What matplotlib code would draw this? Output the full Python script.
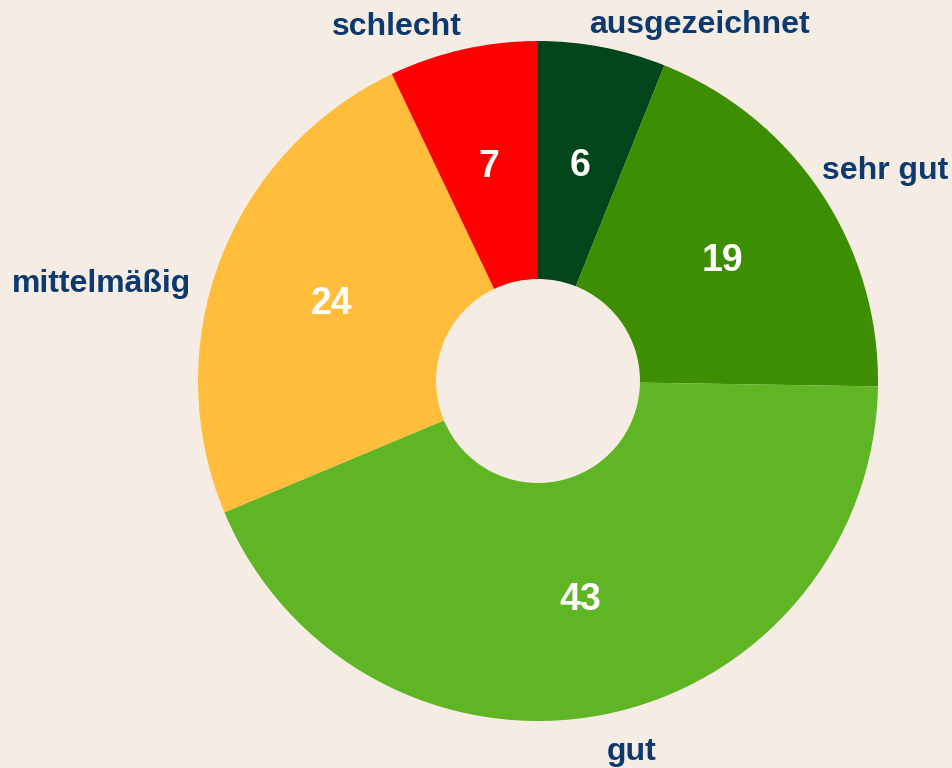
import numpy as np
import matplotlib.pyplot as plt

labels = ['ausgezeichnet', 'sehr gut', 'gut', 'mittelmäßig', 'schlecht']
values = [6, 19, 43, 24, 7]
colors = ['#00461a', '#3e8e04', '#5fb523', '#ffbd3b', '#ff0000']

# label placement: radius and angle nudge (degrees, clockwise) per slice
label_r = [1.058, 1.04, 1.11, 1.06, 1.065]
label_nudge = [-2.7, -2.8, 0.4, -5.3, 0.6]

bg = '#f5ede3'
plt.rcParams['font.family'] = ['Liberation Sans', 'DejaVu Sans']

fig = plt.figure(figsize=(9.53, 7.68), dpi=100, facecolor=bg)
ax = fig.add_axes([0, 0, 1, 1])
ax.set_facecolor(bg)

wedges, _ = ax.pie(values, colors=colors, startangle=90, counterclock=False,
                   radius=1, wedgeprops=dict(width=0.7, linewidth=0))

for lab, v, w, lr, dn in zip(labels, values, wedges, label_r, label_nudge):
    mid = (w.theta1 + w.theta2) / 2
    # value in the middle of the ring
    m = np.deg2rad(mid)
    ax.text(0.65 * np.cos(m), 0.65 * np.sin(m) - 0.006, str(v), ha='center', va='center',
            color='white', fontsize=27, fontweight='bold')
    a = np.deg2rad(mid - dn)
    x, y = lr * np.cos(a), lr * np.sin(a)
    ax.text(x, y, lab, ha='left' if x > 0 else 'right', va='center',
            color='#0d3a6e', fontsize=23, fontweight='bold')

ax.set_aspect('auto')
ax.set_xlim(-538 / 340, (953 - 538) / 340)
ax.set_ylim(-387 / 340, 381 / 340)
ax.axis('off')

fig.savefig('out.png', dpi=100, facecolor=bg)
